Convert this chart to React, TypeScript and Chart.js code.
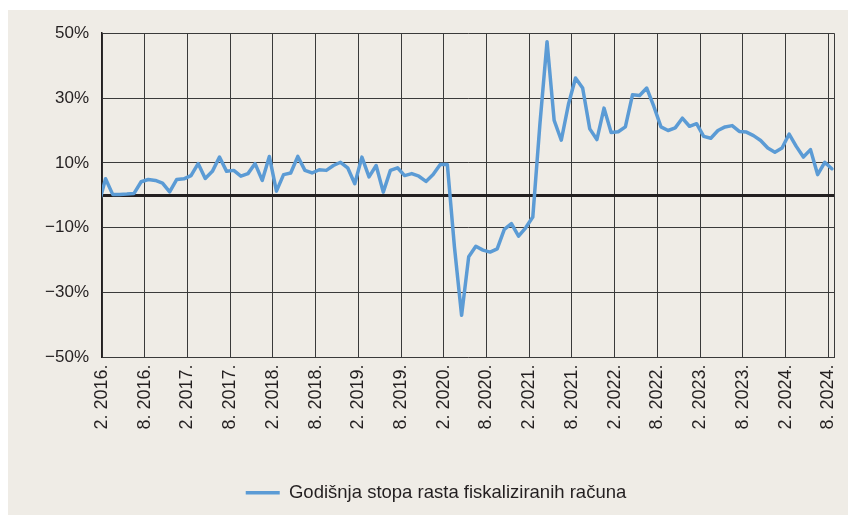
import React, { useEffect, useRef } from "react";
import { Chart, registerables } from "chart.js";

Chart.register(...registerables);

const seriesLabel = "Godišnja stopa rasta fiskaliziranih računa";

// Monthly annual growth rates (%), January 2016 – August 2024
const growth2016 = [-3, 5.1, 0.3, 0.3, 0.4, 0.6, 4.2, 4.9, 4.6, 3.8, 1.1, 4.9];
const growth2017 = [5.1, 6.1, 9.8, 5.2, 7.4, 11.8, 7.4, 7.7, 5.9, 6.7, 9.8, 4.6];
const growth2018 = [12.0, 1.3, 6.4, 6.9, 12.0, 7.7, 6.9, 7.9, 7.7, 9.2, 10.2, 8.5];
const growth2019 = [3.6, 11.8, 5.7, 9.2, 1.0, 7.7, 8.5, 6.1, 6.7, 5.9, 4.3, 6.4];
const growth2020 = [9.5, 9.5, -16, -37, -18.9, -15.7, -16.9, -17.5, -16.5, -10.5, -8.7, -12.6];
const growth2021 = [-10.0, -6.7, 22, 47.4, 23.1, 17.0, 28, 36.2, 33.1, 20.5, 17.2, 26.9];
const growth2022 = [19.4, 19.6, 21.1, 31.0, 30.8, 33.1, 27.4, 21.1, 20.0, 20.8, 23.8, 21.3];
const growth2023 = [22.1, 18.2, 17.6, 20.0, 21.1, 21.5, 19.7, 19.5, 18.4, 16.9, 14.6, 13.3];
const growth2024 = [14.6, 18.9, 15.1, 11.8, 14.1, 6.4, 10.2, 8.2];

const growth = [
  ...growth2016, ...growth2017, ...growth2018, ...growth2019, ...growth2020,
  ...growth2021, ...growth2022, ...growth2023, ...growth2024,
];

// category (month) labels, first one is January 2016
const categories = growth.map((_, i) => `${(i % 12) + 1}. ${2016 + Math.floor(i / 12)}.`);

const tickLabels = [
  "2. 2016.", "8. 2016.", "2. 2017.", "8. 2017.", "2. 2018.", "8. 2018.",
  "2. 2019.", "8. 2019.", "2. 2020.", "8. 2020.", "2. 2021.", "8. 2021.",
  "2. 2022.", "8. 2022.", "2. 2023.", "8. 2023.", "2. 2024.", "8. 2024.",
];
const yTickValues = [-50, -30, -10, 0, 10, 30, 50];

const X_MIN = 0; // gridline "2. 2016."
const X_MAX = 102.8;
const MONTHS_PER_TICK = 6;

const FONT = "'Liberation Sans', Arial, Helvetica, sans-serif";
const TEXT = "#231f20";
const GRID = "#3a3a3a";
const BLUE = "#5b9bd5";

export default function App() {
  const ref = useRef<HTMLCanvasElement | null>(null);

  useEffect(() => {
    if (!ref.current) return;
    // each month's value sits mid-month: Feb 2016 at 0.5, Jan 2016 at -0.5
    const points = growth.map((v, i) => ({ x: i - 0.5, y: v }));
    const chart = new Chart(ref.current, {
      type: "line",
      data: {
        labels: categories,
        datasets: [
          {
            label: seriesLabel,
            data: points,
            borderColor: BLUE,
            backgroundColor: BLUE,
            borderWidth: 3.5,
            pointRadius: 0,
            pointHoverRadius: 0,
            tension: 0,
            borderJoinStyle: "round",
            borderCapStyle: "round",
          },
        ],
      },
      options: {
        animation: false,
        responsive: false,
        devicePixelRatio: 1,
        parsing: false as any,
        layout: { padding: { top: 23, right: 0, bottom: 3, left: 16 } },
        plugins: {
          tooltip: { enabled: false },
          title: { display: false },
          legend: {
            position: "bottom",
            align: "center",
            labels: {
              usePointStyle: true,
              pointStyle: "line",
              pointStyleWidth: 34,
              boxHeight: 18,
              padding: 10,
              color: TEXT,
              font: { family: FONT, size: 18.5 },
            },
          },
        },
        scales: {
          x: {
            type: "linear",
            min: X_MIN,
            max: X_MAX,
            afterBuildTicks: (axis: any) => {
              axis.ticks = [
                ...tickLabels.map((_, k) => ({ value: k * MONTHS_PER_TICK })),
                { value: X_MAX },
              ];
            },
            afterFit: (axis: any) => {
              axis.height = 116;
              axis.paddingLeft = 0;
              axis.paddingRight = 14;
            },
            grid: { color: GRID, lineWidth: 1, drawTicks: false },
            border: { display: false },
            ticks: {
              autoSkip: false,
              minRotation: 90,
              maxRotation: 90,
              padding: 7,
              color: TEXT,
              font: { family: FONT, size: 18 },
              callback: (v: any) => tickLabels[Number(v) / MONTHS_PER_TICK] ?? "",
            },
          },
          y: {
            min: -50,
            max: 50,
            afterBuildTicks: (axis: any) => {
              axis.ticks = yTickValues.map((v) => ({ value: v }));
            },
            afterFit: (axis: any) => {
              axis.width = 78;
            },
            grid: {
              color: (ctx: any) => (ctx.tick && ctx.tick.value === 0 ? TEXT : GRID),
              lineWidth: (ctx: any) => (ctx.tick && ctx.tick.value === 0 ? 3 : 1),
              drawTicks: false,
            },
            border: { display: true, color: TEXT, width: 1.5 },
            ticks: {
              padding: 13,
              color: TEXT,
              font: { family: FONT, size: 17 },
              callback: (v: any) => {
                const n = Number(v);
                if (n === 0) return "";
                return `${n < 0 ? "\u2212" : ""}${Math.abs(n)}%`;
              },
            },
          },
        },
      },
    });
    return () => chart.destroy();
  }, []);

  return (
    <div
      style={{
        position: "fixed",
        left: 8,
        top: 10,
        width: 840,
        height: 505,
        background: "#efece6",
      }}
    >
      <canvas ref={ref} width={840} height={505} style={{ display: "block" }} />
    </div>
  );
}
